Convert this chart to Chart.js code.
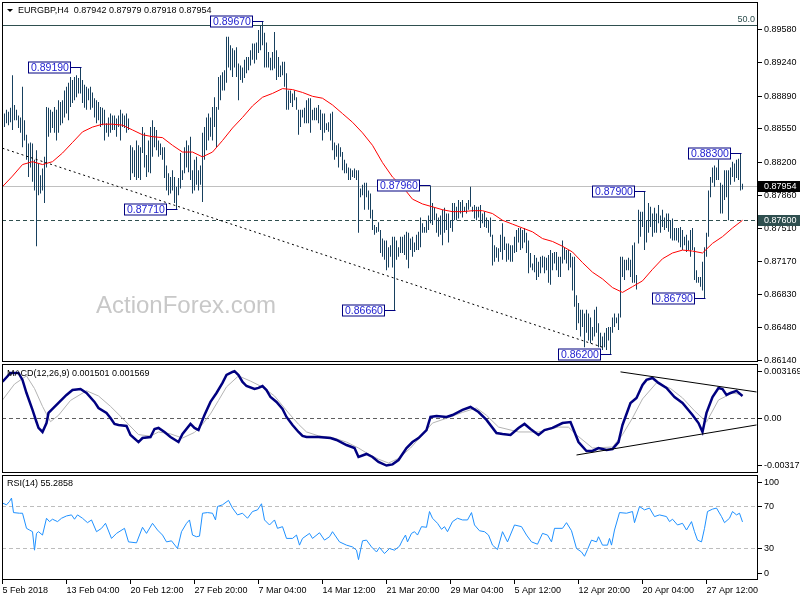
<!DOCTYPE html>
<html>
<head>
<meta charset="utf-8">
<script src="https://cdn.jsdelivr.net/npm/chart.js@4.4.0/dist/chart.umd.min.js"></script>
<style>
  html, body { margin: 0; padding: 0; background: #fff; }
  #wrap { position: relative; width: 800px; height: 600px; }
  #wrap canvas { position: absolute; left: 0; top: 0; }
</style>
</head>
<body>
<div id="wrap">
  <canvas id="main" width="800" height="600"></canvas>
  <canvas id="macd" width="800" height="600"></canvas>
  <canvas id="rsi" width="800" height="600"></canvas>
</div>
<script>
// EURGBP H4, one entry per bar (bar index = position in array)
var barHigh = [
  0.8873,0.8871,0.8875,0.8873,0.8877,0.8911,0.8880,0.8875,0.8869,0.8867,
  0.8899,0.8864,0.8849,0.8840,0.8841,0.8840,0.8823,0.8833,0.8819,0.8807,
  0.8814,0.8826,0.8878,0.8877,0.8875,0.8873,0.8878,0.8875,0.8885,0.8883,
  0.8885,0.8895,0.8899,0.8903,0.8909,0.8906,0.8909,0.8911,0.8908,0.8919,
  0.8906,0.8901,0.8899,0.8897,0.8899,0.8893,0.8887,0.8885,0.8883,0.8878,
  0.8877,0.8875,0.8861,0.8867,0.8871,0.8869,0.8869,0.8866,0.8869,0.8875,
  0.8871,0.8869,0.8871,0.8866,0.8838,0.8836,0.8833,0.8843,0.8838,0.8836,
  0.8857,0.8851,0.8828,0.8843,0.8857,0.8864,0.8857,0.8854,0.8843,0.8840,
  0.8836,0.8836,0.8817,0.8809,0.8805,0.8812,0.8805,0.8795,0.8804,0.8830,
  0.8812,0.8836,0.8843,0.8838,0.8847,0.8812,0.8823,0.8826,0.8812,0.8817,
  0.8851,0.8857,0.8867,0.8871,0.8867,0.8878,0.8888,0.8878,0.8909,0.8911,
  0.8914,0.8916,0.8951,0.8951,0.8942,0.8939,0.8937,0.8940,0.8923,0.8921,
  0.8919,0.8927,0.8930,0.8930,0.8937,0.8944,0.8944,0.8945,0.8958,0.8963,
  0.8967,0.8955,0.8945,0.8935,0.8929,0.8935,0.8956,0.8937,0.8930,0.8921,
  0.8925,0.8925,0.8913,0.8895,0.8895,0.8892,0.8895,0.8888,0.8875,0.8875,
  0.8875,0.8877,0.8885,0.8887,0.8887,0.8875,0.8877,0.8877,0.8880,0.8875,
  0.8871,0.8871,0.8861,0.8862,0.8871,0.8873,0.8841,0.8838,0.8840,0.8836,
  0.8831,0.8823,0.8819,0.8815,0.8814,0.8812,0.8814,0.8812,0.8812,0.8793,
  0.8797,0.8799,0.8799,0.8791,0.8788,0.8771,0.8755,0.8753,0.8758,0.8750,
  0.8741,0.8739,0.8739,0.8732,0.8734,0.8743,0.8743,0.8739,0.8732,0.8743,
  0.8743,0.8745,0.8748,0.8747,0.8741,0.8743,0.8737,0.8745,0.8748,0.8763,
  0.8757,0.8753,0.8760,0.8765,0.8796,0.8778,0.8773,0.8767,0.8763,0.8765,
  0.8771,0.8773,0.8767,0.8767,0.8760,0.8778,0.8778,0.8774,0.8781,0.8779,
  0.8781,0.8774,0.8778,0.8781,0.8795,0.8774,0.8776,0.8774,0.8774,0.8776,
  0.8767,0.8769,0.8763,0.8760,0.8763,0.8745,0.8734,0.8732,0.8731,0.8745,
  0.8757,0.8743,0.8736,0.8736,0.8734,0.8734,0.8743,0.8750,0.8752,0.8752,
  0.8750,0.8752,0.8747,0.8739,0.8726,0.8715,0.8724,0.8721,0.8717,0.8722,
  0.8723,0.8722,0.8721,0.8724,0.8729,0.8726,0.8727,0.8727,0.8722,0.8722,
  0.8739,0.8732,0.8729,0.8729,0.8726,0.8722,0.8722,0.8682,0.8674,0.8667,
  0.8667,0.8663,0.8667,0.8663,0.8659,0.8649,0.8667,0.8670,0.8653,0.8643,
  0.8639,0.8643,0.8648,0.8649,0.8649,0.8659,0.8663,0.8659,0.8663,0.8722,
  0.8722,0.8719,0.8719,0.8721,0.8719,0.8734,0.8737,0.8703,0.8771,0.8769,
  0.8769,0.8790,0.8760,0.8778,0.8774,0.8767,0.8773,0.8767,0.8776,0.8765,
  0.8771,0.8763,0.8767,0.8767,0.8760,0.8762,0.8752,0.8752,0.8752,0.8753,
  0.8750,0.8743,0.8745,0.8739,0.8750,0.8752,0.8732,0.8708,0.8701,0.8701,
  0.8717,0.8732,0.8747,0.8791,0.8805,0.8815,0.8817,0.8815,0.8830,0.8799,
  0.8797,0.8812,0.8812,0.8812,0.8815,0.8821,0.8819,0.8823,0.8824,0.8830,
  0.8798
];
var barLow = [
  0.8854,0.8857,0.8861,0.8859,0.8862,0.8854,0.8864,0.8864,0.8856,0.8851,
  0.8836,0.8843,0.8823,0.8805,0.8815,0.8800,0.8791,0.8733,0.8786,0.8788,
  0.8791,0.8778,0.8815,0.8847,0.8851,0.8856,0.8851,0.8843,0.8851,0.8859,
  0.8861,0.8867,0.8871,0.8864,0.8878,0.8882,0.8885,0.8888,0.8892,0.8892,
  0.8882,0.8877,0.8875,0.8885,0.8875,0.8877,0.8867,0.8861,0.8864,0.8857,
  0.8859,0.8843,0.8851,0.8847,0.8851,0.8854,0.8854,0.8847,0.8857,0.8843,
  0.8857,0.8856,0.8851,0.8854,0.8802,0.8809,0.8805,0.8802,0.8804,0.8802,
  0.8830,0.8815,0.8805,0.8810,0.8809,0.8826,0.8836,0.8833,0.8826,0.8828,
  0.8823,0.8804,0.8791,0.8786,0.8788,0.8791,0.8778,0.8771,0.8786,0.8793,
  0.8802,0.8809,0.8815,0.8810,0.8802,0.8788,0.8791,0.8797,0.8791,0.8797,
  0.8779,0.8823,0.8833,0.8843,0.8847,0.8843,0.8857,0.8836,0.8875,0.8885,
  0.8895,0.8895,0.8903,0.8919,0.8916,0.8909,0.8919,0.8909,0.8885,0.8906,
  0.8903,0.8908,0.8913,0.8916,0.8921,0.8927,0.8923,0.8927,0.8934,0.8937,
  0.8942,0.8919,0.8919,0.8919,0.8916,0.8916,0.8918,0.8906,0.8909,0.8909,
  0.8911,0.8899,0.8875,0.8875,0.8882,0.8878,0.8885,0.8875,0.8849,0.8857,
  0.8867,0.8861,0.8861,0.8861,0.8851,0.8864,0.8864,0.8864,0.8861,0.8854,
  0.8843,0.8851,0.8854,0.8852,0.8843,0.8833,0.8823,0.8826,0.8815,0.8826,
  0.8812,0.8809,0.8809,0.8802,0.8802,0.8805,0.8804,0.8802,0.8747,0.8784,
  0.8786,0.8771,0.8784,0.8771,0.8762,0.8750,0.8745,0.8747,0.8748,0.8726,
  0.8722,0.8719,0.8708,0.8711,0.8722,0.8711,0.8666,0.8719,0.8722,0.8726,
  0.8726,0.8724,0.8719,0.8710,0.8729,0.8722,0.8727,0.8729,0.8729,0.8732,
  0.8747,0.8747,0.8747,0.8750,0.8757,0.8755,0.8760,0.8747,0.8743,0.8745,
  0.8734,0.8747,0.8750,0.8737,0.8752,0.8748,0.8760,0.8760,0.8762,0.8767,
  0.8763,0.8769,0.8767,0.8771,0.8774,0.8769,0.8762,0.8760,0.8763,0.8752,
  0.8757,0.8753,0.8752,0.8747,0.8743,0.8713,0.8717,0.8721,0.8717,0.8727,
  0.8719,0.8729,0.8717,0.8719,0.8717,0.8717,0.8726,0.8727,0.8737,0.8729,
  0.8731,0.8737,0.8726,0.8705,0.8711,0.8708,0.8706,0.8698,0.8701,0.8705,
  0.8711,0.8705,0.8708,0.8695,0.8693,0.8708,0.8715,0.8708,0.8701,0.8701,
  0.8715,0.8719,0.8715,0.8708,0.8711,0.8687,0.8670,0.8646,0.8653,0.8639,
  0.8649,0.8628,0.8643,0.8635,0.8632,0.8635,0.8639,0.8643,0.8628,0.8628,
  0.8625,0.8628,0.8625,0.8635,0.8620,0.8643,0.8649,0.8653,0.8646,0.8659,
  0.8701,0.8698,0.8708,0.8708,0.8701,0.8695,0.8695,0.8688,0.8736,0.8743,
  0.8753,0.8729,0.8737,0.8747,0.8753,0.8743,0.8747,0.8747,0.8757,0.8747,
  0.8753,0.8750,0.8752,0.8748,0.8741,0.8739,0.8739,0.8739,0.8737,0.8732,
  0.8729,0.8734,0.8727,0.8729,0.8722,0.8729,0.8698,0.8695,0.8695,0.8691,
  0.8687,0.8679,0.8722,0.8743,0.8784,0.8799,0.8795,0.8802,0.8802,0.8767,
  0.8767,0.8781,0.8784,0.8760,0.8797,0.8805,0.8800,0.8804,0.8802,0.8791,
  0.8792
];

// moving average, read every 5 bars
var maBars = [0,5,10,15,20,25,30,35,40,45, 50,55,60,65,70,75,80,85,90,95,
  100,105,110,115,120,125,130,135,140,145, 150,155,160,165,170,175,180,185,190,195,
  200,205,210,215,220,225,230,235,240,245, 250,255,260,265,270,275,280,285,290,295,
  300,305,310,315,320,325,330,335,340,345, 350,355,360,365,370];
var maVal = [0.8795,0.8806,0.8818,0.8821,0.8818,0.8821,0.8830,0.8841,0.8852,0.8857,
  0.8860,0.8860,0.8859,0.8854,0.8849,0.8847,0.8846,0.8838,0.8831,0.8831,
  0.8826,0.8831,0.8843,0.8856,0.8867,0.8879,0.8888,0.8892,0.8897,0.8896,
  0.8893,0.8889,0.8887,0.8880,0.8871,0.8862,0.8851,0.8838,0.8820,0.8805,
  0.8795,0.8782,0.8777,0.8774,0.8771,0.8769,0.8769,0.8770,0.8770,0.8767,
  0.8760,0.8756,0.8752,0.8748,0.8741,0.8738,0.8733,0.8727,0.8716,0.8706,
  0.8699,0.8690,0.8685,0.8691,0.8697,0.8709,0.8720,0.8726,0.8729,0.8728,
  0.8726,0.8736,0.8743,0.8752,0.8760];

// falling trend line and marked levels
var trendBars = [0, 300];
var trendPrices = [0.8835, 0.8628];
var fibLevel = 0.8963;
var lastPrice = 0.87954;
var supportLevel = 0.876;
var markBars = [39, 130, 87, 196, 214, 321, 304, 351, 369];
var markPrices = [0.8919, 0.8967, 0.8771, 0.8666, 0.8796, 0.8790, 0.8620, 0.8679, 0.8830];
var priceTicks = [0.8614,0.8648,0.8683,0.8717,0.8751,0.8786,0.8820,0.8855,0.8889,0.8924,0.8958];

// MACD(12,26,9)
var macdBars = [0,4,8,10,12,15,17,18,20,22,
  23,26,28,32,35,39,42,46,48,52,
  54,56,58,62,64,68,70,74,76,78,
  81,84,88,90,94,96,98,101,104,107,
  110,112,115,116,118,120,122,126,128,130,
  132,134,137,140,142,145,148,150,152,158,
  164,167,172,176,178,182,185,188,192,195,
  198,202,205,208,212,214,217,222,225,230,
  234,238,242,247,250,254,258,261,264,268,
  271,275,280,284,285,288,292,295,298,302,
  305,308,310,314,317,320,322,325,328,332,
  336,340,345,348,350,352,355,358,360,362,
  364,367,370];
var macdVal = [0.00246,0.00305,0.00305,0.00258,0.00170,0.00056,-0.00025,-0.00065,-0.00092,-0.00032,
  0.00036,0.00076,0.00103,0.00157,0.00190,0.00197,0.00170,0.00110,0.00069,0.00036,
  0.00002,-0.00038,-0.00045,-0.00052,-0.00112,-0.00160,-0.00133,-0.00126,-0.00072,-0.00065,
  -0.00092,-0.00126,-0.00160,-0.00106,-0.00038,-0.00065,-0.00079,0.00022,0.00110,0.00170,
  0.00238,0.00291,0.00312,0.00317,0.00291,0.00244,0.00217,0.00197,0.00204,0.00217,
  0.00190,0.00143,0.00110,0.00063,0.00009,-0.00045,-0.00092,-0.00119,-0.00126,-0.00126,
  -0.00133,-0.00146,-0.00180,-0.00200,-0.00260,-0.00240,-0.00260,-0.00294,-0.00318,-0.00310,
  -0.00281,-0.00200,-0.00160,-0.00133,-0.00079,0.00009,0.00015,0.00009,0.00022,0.00056,
  0.00076,0.00042,-0.00011,-0.00099,-0.00106,-0.00112,-0.00065,-0.00038,-0.00072,-0.00112,
  -0.00079,-0.00065,-0.00032,-0.00025,-0.00059,-0.00160,-0.00220,-0.00220,-0.00200,-0.00213,
  -0.00207,-0.00160,-0.00045,0.00103,0.00137,0.00224,0.00258,0.00271,0.00238,0.00204,
  0.00143,0.00103,0.00022,-0.00032,-0.00092,0.00036,0.00143,0.00204,0.00197,0.00157,
  0.00170,0.00184,0.00150];
var signalBars = [0,6,12,16,20,24,28,34,42,48,
  54,60,68,74,78,84,90,96,100,104,
  108,112,118,124,130,136,143,148,152,158,
  165,172,178,182,188,193,198,204,210,215,
  224,230,237,242,248,258,268,278,283,287,
  295,305,310,315,320,327,334,340,346,352,
  358,365,370];
var signalVal = [0.00123,0.00230,0.00285,0.00200,0.00080,-0.00023,0.00020,0.00120,0.00185,0.00150,
  0.00080,0.00000,-0.00110,-0.00120,-0.00092,-0.00105,-0.00133,-0.00095,-0.00040,0.00030,
  0.00120,0.00211,0.00285,0.00250,0.00210,0.00150,0.00036,-0.00040,-0.00092,-0.00118,
  -0.00130,-0.00160,-0.00200,-0.00233,-0.00275,-0.00301,-0.00270,-0.00200,-0.00110,-0.00032,
  0.00009,0.00040,0.00069,0.00020,-0.00059,-0.00092,-0.00092,-0.00059,-0.00060,-0.00112,
  -0.00200,-0.00193,-0.00110,0.00002,0.00130,0.00238,0.00200,0.00137,0.00050,-0.00025,
  0.00123,0.00170,0.00157];
var triUpperBars = [309, 377], triUpperVal = [0.00312, 0.00177];
var triLowerBars = [287, 377], triLowerVal = [-0.00247, -0.00045];
var macdTicks = [-0.003177, 0, 0.003169];
var macdTickLabels = ['-0.003177', '0.00', '0.003169'];

// RSI(14)
var rsiBars = [0,2,3.5,4.5,5.5,8.5,10,12,13.5,15,
  16,17,18,20,22,23.5,25,27.5,29.5,32,
  34.5,36,37.5,40,42.5,44.5,47,49.5,51.5,54.5,
  57,61,63,67,70,72,75,77.5,80,82,
  84.5,87.5,89.5,92,93.5,95,97,98.5,100,102.5,
  105,106.5,107.5,110,113,115,117.5,120,122.5,125,
  127.5,129.5,131,133.5,136,137.5,140,142,145,147,
  148.5,150,153.5,155,158.5,161,163.5,165,168.5,172,
  175,177,178,180,182,184.5,187,188.5,191,193.5,
  196,198.5,200,201.5,202.5,204.5,206,207.5,209.5,212,
  213.5,215,217.5,219.5,221,222.5,225,227.5,230,232.5,
  234.5,236,238.5,241,243,245,247.5,250,252.5,256,
  259.5,262,264.5,267.5,270,272.5,274.5,276,280,282,
  284.5,287,289.5,291,292.5,294.5,297,298,300,302.5,
  303.5,304.5,306,308.5,312,315,316,318.5,321,323.5,
  326,328.5,332,333.5,335,337.5,340,342,344.5,346,
  347.5,349.5,351,352.5,355,357,359.5,361,363.5,365,
  367,368.5,370];
var rsiVal = [73.3,71.6,74.8,78,64.2,63.6,63.6,49.2,47.6,46,
  28.4,44.4,46,42.8,58.8,55.6,57.9,55.6,58.8,61,
  62,57.9,62,58.8,54.6,57.2,46,49.2,54,39.6,
  44.4,49.2,36.3,35.4,50.2,44.4,54,47.6,42.8,36.3,
  37.3,30,46,54,57.2,42.8,41.2,41.8,63.6,64.2,
  63.6,57.2,70,71.6,75.8,68.5,62,63.6,58.8,65.2,
  66.8,72.6,57.2,52.4,57.2,49.2,50.8,39.6,39.6,42.8,
  33.2,39.6,44.4,39.6,45,38,41.2,46,36.3,33.2,
  31.5,28.4,19.4,37.3,38,31.5,26.7,31,25.2,30,
  28.4,32.2,38,42.8,36.3,44.4,46,42.8,50.8,50.2,
  65.2,58.8,54,48.3,50.8,46,55.6,58.8,57.2,57.2,
  64.2,52.4,46.9,46,42.8,33.2,29,46,36.3,52.4,
  50.8,42.8,36.3,34.1,44.4,42.8,36.3,49.2,49.2,54.6,
  46.9,30,26.7,22.6,29,38,36.3,41.2,33.2,33.2,
  39.6,33.2,47.6,64.2,63.6,65.2,54.6,70,66.8,68.5,
  60.4,62,60.4,55.6,57.9,52.4,54,47.6,55.6,46,
  38,36.3,49.2,65.2,67.5,68.5,60.4,54.6,58.8,65.2,
  62,63.6,55.3];
var rsiLevels = [30, 70];

// time axis
var xTickBars = [0,32,64,96,128,160,192,224,256,288,320,352];
var xTickLabels = ['5 Feb 2018','13 Feb 04:00','20 Feb 12:00','27 Feb 20:00','7 Mar 04:00','14 Mar 12:00',
  '21 Mar 20:00','29 Mar 04:00','5 Apr 12:00','12 Apr 20:00','20 Apr 04:00','27 Apr 12:00'];

var FAM = "'Liberation Sans', 'DejaVu Sans', sans-serif";
var tickFont = { family: FAM, size: 9 };
var X_MIN = -0.25, X_MAX = 377.75;

function pts(xs, ys) {
  return xs.map(function (x, k) { return { x: x, y: ys[k] }; });
}

function rightAxis(min, max, values, labelFn) {
  return {
    position: 'right', min: min, max: max,
    afterBuildTicks: function (s) { s.ticks = values.map(function (v) { return { value: v }; }); },
    afterFit: function (s) { s.width = 42; s.paddingTop = 0; s.paddingBottom = 0; },
    ticks: { font: tickFont, color: '#000', padding: 2, callback: labelFn },
    grid: { drawOnChartArea: false, tickLength: 4, color: '#000' },
    border: { display: false }
  };
}

function hline(ctx, ca, py, color, dash) {
  var y = Math.floor(py) + 0.5;
  ctx.save();
  ctx.strokeStyle = color;
  ctx.lineWidth = 1;
  ctx.setLineDash(dash);
  ctx.beginPath();
  ctx.moveTo(ca.left, y);
  ctx.lineTo(ca.right, y);
  ctx.stroke();
  ctx.restore();
}

function frame(chart) {
  var ctx = chart.ctx, ca = chart.chartArea;
  ctx.save();
  ctx.strokeStyle = '#000';
  ctx.lineWidth = 1;
  ctx.strokeRect(ca.left + 0.5, ca.top + 0.5, ca.width - 1, ca.height - 1);
  ctx.restore();
}

function axisTag(chart, value, text, bg) {
  var ctx = chart.ctx, ca = chart.chartArea;
  var py = Math.round(chart.scales.y.getPixelForValue(value));
  ctx.save();
  ctx.fillStyle = bg;
  ctx.fillRect(ca.right, py - 5, 800 - ca.right, 11);
  ctx.fillStyle = '#fff';
  ctx.font = '9px ' + FAM;
  ctx.textAlign = 'left';
  ctx.textBaseline = 'middle';
  ctx.fillText(text, ca.right + 6, py + 0.5);
  ctx.restore();
}

function panelTitle(ctx, text, x, y) {
  ctx.save();
  ctx.fillStyle = '#000';
  ctx.font = '9px ' + FAM;
  ctx.textAlign = 'left';
  ctx.textBaseline = 'middle';
  ctx.fillText(text, x, y);
  ctx.restore();
}

var mainDecor = {
  id: 'mainDecor',
  beforeDatasetsDraw: function (chart) {
    var ctx = chart.ctx, ca = chart.chartArea, y = chart.scales.y;
    ctx.save();
    ctx.font = '24px ' + FAM;
    ctx.fillStyle = '#c8c8c8';
    ctx.textAlign = 'left';
    ctx.textBaseline = 'alphabetic';
    ctx.fillText('ActionForex.com', 96, 313);
    ctx.restore();

    var fy = y.getPixelForValue(fibLevel);
    hline(ctx, ca, fy, '#2f4f4f', []);
    hline(ctx, ca, y.getPixelForValue(lastPrice), '#c0c0c0', []);
    hline(ctx, ca, y.getPixelForValue(supportLevel), '#2f4f4f', [4, 3]);

    ctx.save();
    ctx.font = '9px ' + FAM;
    ctx.fillStyle = '#2f4f4f';
    ctx.textAlign = 'right';
    ctx.textBaseline = 'bottom';
    ctx.fillText('50.0', ca.right - 3, fy - 1);
    ctx.restore();
  },
  afterDatasetsDraw: function (chart) {
    var ctx = chart.ctx, xs = chart.scales.x, ys = chart.scales.y;
    ctx.save();
    ctx.font = '10.5px ' + FAM;
    ctx.textBaseline = 'middle';
    ctx.textAlign = 'left';
    markPrices.forEach(function (p, k) {
      var bx = Math.round(xs.getPixelForValue(markBars[k]));
      var py = Math.floor(ys.getPixelForValue(p)) + 0.5;
      var txt = p.toFixed(5);
      var w = Math.round(ctx.measureText(txt).width) + 5;
      var right = bx - 10;
      ctx.fillStyle = '#fff';
      ctx.fillRect(right - w, py - 6, w, 12);
      ctx.strokeStyle = '#000080';
      ctx.lineWidth = 1;
      ctx.strokeRect(right - w + 0.5, py - 5.5, w - 1, 11);
      ctx.beginPath();
      ctx.moveTo(right, py);
      ctx.lineTo(bx + 0.5, py);
      ctx.stroke();
      ctx.fillStyle = '#1c1cd0';
      ctx.fillText(txt, right - w + 3, py + 0.5);
    });
    ctx.restore();

    // symbol header
    ctx.save();
    ctx.fillStyle = '#000';
    ctx.beginPath();
    ctx.moveTo(7, 9); ctx.lineTo(13, 9); ctx.lineTo(10, 12); ctx.closePath();
    ctx.fill();
    ctx.restore();
    panelTitle(ctx, 'EURGBP,H4  0.87942 0.87979 0.87918 0.87954', 18, 10.5);
  },
  afterDraw: function (chart) {
    frame(chart);
    axisTag(chart, lastPrice, '0.87954', '#000');
    axisTag(chart, supportLevel, '0.87600', '#2f4f4f');
  }
};

var macdDecor = {
  id: 'macdDecor',
  beforeDatasetsDraw: function (chart) {
    hline(chart.ctx, chart.chartArea, chart.scales.y.getPixelForValue(0), '#606060', [4, 3]);
  },
  afterDraw: function (chart) {
    frame(chart);
    panelTitle(chart.ctx, 'MACD(12,26,9) 0.001501 0.001569', 7, 374);
  }
};

var rsiDecor = {
  id: 'rsiDecor',
  beforeDatasetsDraw: function (chart) {
    rsiLevels.forEach(function (v) {
      hline(chart.ctx, chart.chartArea, chart.scales.y.getPixelForValue(v), '#bdbdbd', [4, 3]);
    });
  },
  afterDraw: function (chart) {
    var ctx = chart.ctx, ca = chart.chartArea;
    frame(chart);
    panelTitle(ctx, 'RSI(14) 55.2858', 7, 484);
    // end labels of the 0..100 range sit just inside the panel
    [['100', ca.top + 7], ['0', ca.bottom - 7]].forEach(function (e) {
      var y = Math.round(e[1]) + 0.5;
      ctx.save();
      ctx.strokeStyle = '#000';
      ctx.beginPath();
      ctx.moveTo(ca.right, y);
      ctx.lineTo(ca.right + 4, y);
      ctx.stroke();
      ctx.restore();
      panelTitle(ctx, e[0], ca.right + 6, y);
    });
  }
};

var base = {
  animation: false, responsive: false, devicePixelRatio: 1,
  plugins: { legend: { display: false }, tooltip: { enabled: false } }
};

var barData = barHigh.map(function (h, i) { return { x: i, y: [barLow[i], h] }; });

new Chart(document.getElementById('main'), {
  type: 'bar',
  data: {
    datasets: [
      { type: 'line', data: pts(trendBars, trendPrices), borderColor: '#000', borderWidth: 1,
        borderDash: [2, 3], pointRadius: 0, order: 0 },
      { type: 'line', data: pts(maBars, maVal), borderColor: '#ff0000', borderWidth: 1,
        pointRadius: 0, order: 1 },
      { type: 'bar', data: barData, backgroundColor: '#17405e', barThickness: 1,
        inflateAmount: 0, borderWidth: 0, order: 2 }
    ]
  },
  options: Object.assign({}, base, {
    layout: { padding: { left: 2, top: 2, right: 0, bottom: 238 } },
    scales: {
      x: { type: 'linear', display: false, min: X_MIN, max: X_MAX, offset: false },
      y: rightAxis(0.86126, 0.89871, priceTicks, function (v) { return v.toFixed(5); })
    }
  }),
  plugins: [mainDecor]
});

new Chart(document.getElementById('macd'), {
  type: 'line',
  data: {
    datasets: [
      { data: pts(triUpperBars, triUpperVal), borderColor: '#000', borderWidth: 1, pointRadius: 0, order: 0 },
      { data: pts(triLowerBars, triLowerVal), borderColor: '#000', borderWidth: 1, pointRadius: 0, order: 0 },
      { data: pts(macdBars, macdVal), borderColor: '#000080', borderWidth: 2.5, pointRadius: 0, order: 1 },
      { data: pts(signalBars, signalVal), borderColor: '#b4b4b4', borderWidth: 1, pointRadius: 0, order: 2 }
    ]
  },
  options: Object.assign({}, base, {
    layout: { padding: { left: 2, top: 364, right: 0, bottom: 127 } },
    scales: {
      x: { type: 'linear', display: false, min: X_MIN, max: X_MAX, offset: false },
      y: rightAxis(-0.00368, 0.00365, macdTicks, function (v, i) { return macdTickLabels[i]; })
    }
  }),
  plugins: [macdDecor]
});

new Chart(document.getElementById('rsi'), {
  type: 'line',
  data: {
    datasets: [
      { data: pts(rsiBars, rsiVal), borderColor: '#1e90ff', borderWidth: 1, pointRadius: 0 }
    ]
  },
  options: Object.assign({}, base, {
    layout: { padding: { left: 2, top: 475, right: 0, bottom: 0 } },
    scales: {
      x: {
        type: 'linear', min: X_MIN, max: X_MAX, offset: false,
        afterBuildTicks: function (s) { s.ticks = xTickBars.map(function (v) { return { value: v }; }); },
        afterFit: function (s) { s.height = 20; s.paddingLeft = 0; s.paddingRight = 0; },
        ticks: { font: tickFont, color: '#000', align: 'start', maxRotation: 0, minRotation: 0,
          autoSkip: false, padding: 1, callback: function (v, i) { return xTickLabels[i]; } },
        grid: { drawOnChartArea: false, tickLength: 4, color: '#000' },
        border: { display: false }
      },
      y: rightAxis(0, 100, rsiLevels, function (v) { return String(v); })
    }
  }),
  plugins: [rsiDecor]
});
</script>
</body>
</html>
